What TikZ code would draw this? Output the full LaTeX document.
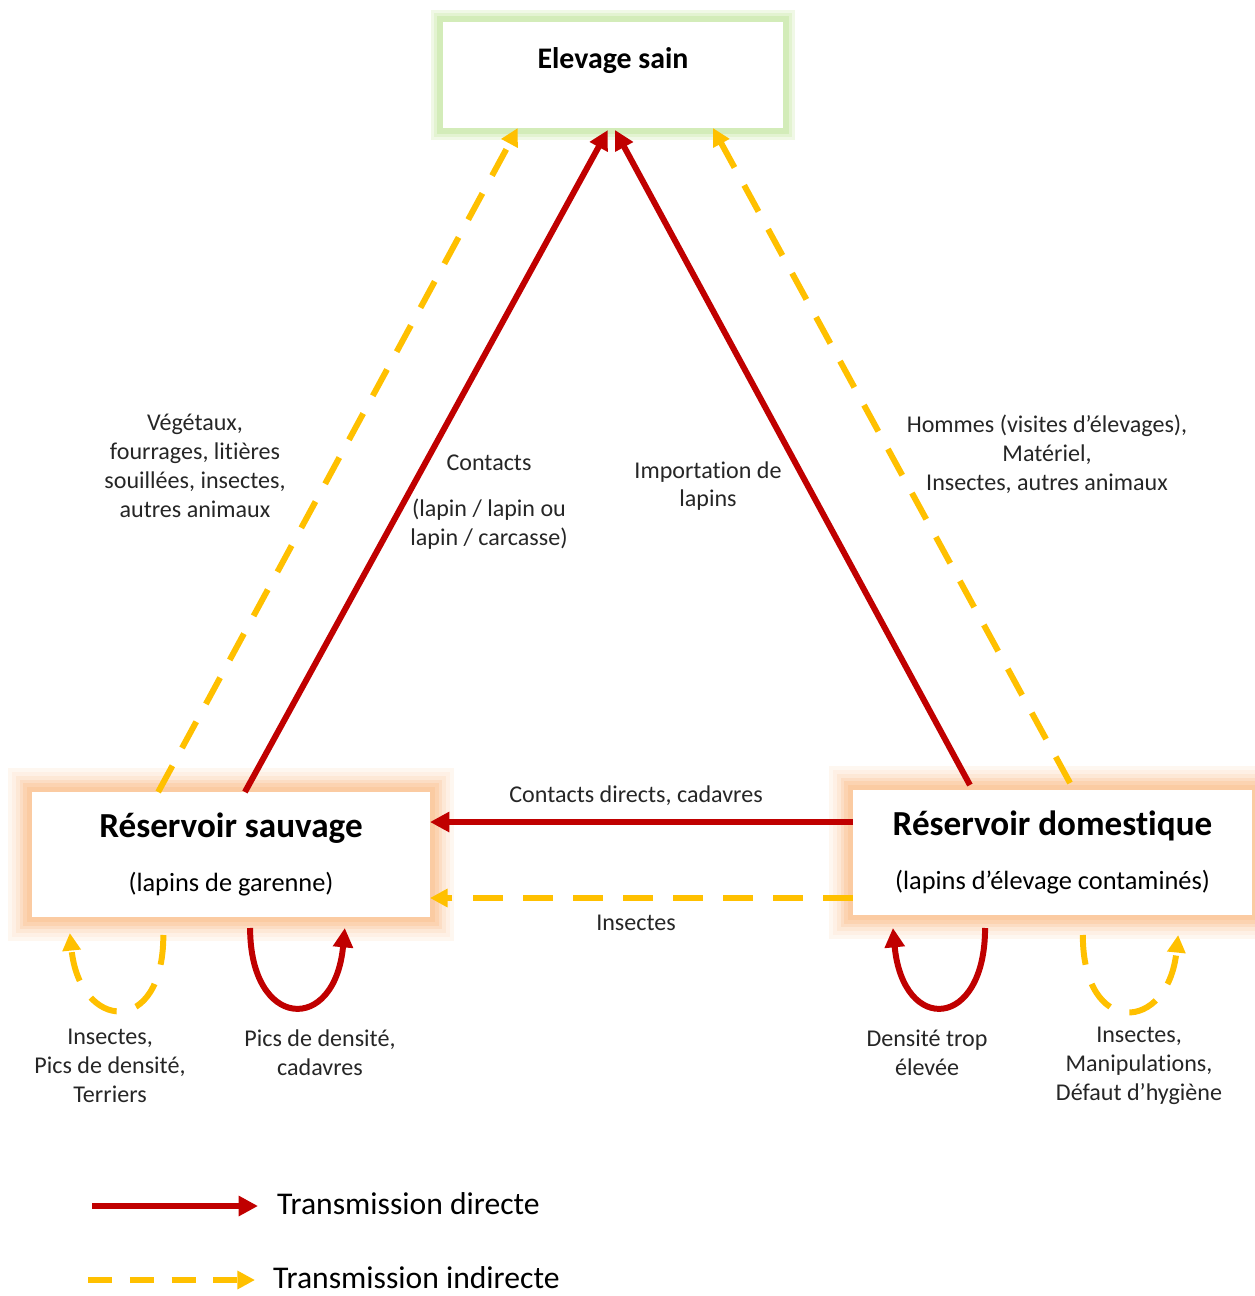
\documentclass[tikz,border=0pt]{standalone}
\usepackage{fontspec}
\setmainfont{Carlito}[Ligatures=NoCommon]
\usetikzlibrary{arrows.meta,calc,positioning}
\definecolor{rouge}{RGB}{192,0,0}
\definecolor{jaune}{RGB}{255,192,0}
\definecolor{orangeglow}{RGB}{247,150,70}
\definecolor{vertglow}{RGB}{146,208,80}

\tikzset{
	boite/.style={fill=white, outer sep=0pt, inner sep=0pt, align=center, font=\fontsize{15}{18}\selectfont},
	haloor/.style={preaction={draw=orangeglow!8, line width=0.95cm, rounded corners=0.5cm},
		preaction={draw=orangeglow!14, line width=0.8cm, rounded corners=0.42cm},
		preaction={draw=orangeglow!22, line width=0.65cm, rounded corners=0.34cm},
		preaction={draw=orangeglow!32, line width=0.5cm, rounded corners=0.26cm},
		preaction={draw=orangeglow!42, line width=0.35cm, rounded corners=0.18cm},
		preaction={draw=orangeglow!50, line width=0.2cm, rounded corners=0.1cm}},
	halovert/.style={preaction={draw=vertglow!14, line width=0.5cm, rounded corners=0.25cm},
		preaction={draw=vertglow!26, line width=0.38cm, rounded corners=0.18cm},
		preaction={draw=vertglow!40, line width=0.26cm, rounded corners=0.12cm}},
	texte/.style={align=center, text=black!85, font=\fontsize{13.7}{16.4}\selectfont},
	directe/.style={draw=rouge, line width=3.4pt, -{Triangle[length=11pt,width=11pt]}},
	indirecte/.style={draw=jaune, line width=3.4pt, dash pattern=on 17pt off 11.5pt, -{Triangle[length=10pt,width=10pt]}}
}

\begin{document}
\begin{tikzpicture}[x=0.02cm, y=-0.02cm]
	\useasboundingbox (0,0) rectangle (1255,1296);
	% boites
	\node[boite, halovert, minimum width=6.8cm, minimum height=2.12cm,
		label={[anchor=center, yshift=-0.78cm, font=\fontsize{17}{20}\selectfont\bfseries]north:Elevage sain}] (sain) at (613,75) {};
	\node[boite, haloor, minimum width=7.96cm, minimum height=2.5cm] (sauv) at (231,854.5)
		{{\fontsize{20}{24}\selectfont\bfseries Réservoir sauvage}\\[13pt](lapins de garenne)};
	\node[boite, haloor, minimum width=7.98cm, minimum height=2.5cm] (dom) at (1052.5,852.5)
		{{\fontsize{20}{24}\selectfont\bfseries Réservoir domestique}\\[13pt](lapins d’élevage contaminés)};

	% points de depart et d'arrivee
	\coordinate (sR) at ($(sauv.north west)!0.535!(sauv.north east)$);
	\coordinate (sY) at ($(sauv.north west)!0.317!(sauv.north east)$);
	\coordinate (dR) at ($(dom.north west)!0.293!(dom.north east)+(0,-5)$);
	\coordinate (dY) at ($(dom.north west)!0.544!(dom.north east)+(0,-7)$);
	\coordinate (hY1) at ($(sain.south west)!0.22!(sain.south east)$);
	\coordinate (hR1) at ($(sain.south west)!0.485!(sain.south east)+(0,2)$);
	\coordinate (hR2) at ($(sain.south west)!0.506!(sain.south east)+(0,2)$);
	\coordinate (hY2) at ($(sain.south west)!0.794!(sain.south east)$);
	\coordinate (dH1) at ($(dom.north west)!0.256!(dom.south west)$);
	\coordinate (dH2) at ($(dom.north west)!0.864!(dom.south west)$);

	\draw[indirecte] (sY) -- (hY1);
	\draw[directe] (sR) -- (hR1);
	\draw[directe] (dR) -- (hR2);
	\draw[indirecte] (dY) -- (hY2);
	\draw[directe] (dH1) -- (dH1 -| sauv.east);
	\draw[indirecte] (dH2) -- (dH2 -| sauv.east);

	% boucles
	\coordinate (b1a) at ($(sauv.south west)!0.33!(sauv.south east)+(0,18)$);
	\coordinate (b1b) at ($(sauv.south west)!0.095!(sauv.south east)+(0,16)$);
	\coordinate (b2a) at ($(sauv.south west)!0.548!(sauv.south east)+(0,11)$);
	\coordinate (b2b) at ($(sauv.south west)!0.786!(sauv.south east)+(0,11)$);
	\coordinate (b3a) at ($(dom.south west)!0.331!(dom.south east)+(0,13)$);
	\coordinate (b3b) at ($(dom.south west)!0.10!(dom.south east)+(0,13)$);
	\coordinate (b4a) at ($(dom.south west)!0.576!(dom.south east)+(0,20)$);
	\coordinate (b4b) at ($(dom.south west)!0.815!(dom.south east)+(0,20)$);
	\draw[indirecte] (b1a) .. controls +(0,103) and +(10,98) .. (b1b);
	\draw[directe] (b2a) .. controls +(0,102) and +(-10,107) .. (b2b);
	\draw[directe] (b3a) .. controls +(0,102) and +(10,107) .. (b3b);
	\draw[indirecte] (b4a) .. controls +(0,103) and +(-10,98) .. (b4b);

	% textes
	\node[texte] (veg) at (195,466) {Végétaux,\\fourrages, litières\\souillées, insectes,\\autres animaux};
	\node[texte] (contact) at (489,502) {Contacts\\[0.35cm](lapin / lapin ou\\lapin / carcasse)};
	\node[texte] (import) at (708,486) {Importation de\\lapins};
	\node[texte] (hommes) at (1047,454) {Hommes (visites d’élevages),\\Matériel,\\Insectes, autres animaux};
	\node[texte] (cdir) at (636,796) {Contacts directs, cadavres};
	\node[texte] (insect) at (636,923) {Insectes};
	\node[texte] (l1) at (110,1066) {Insectes,\\Pics de densité,\\Terriers};
	\node[texte] (l2) at (320,1053) {Pics de densité,\\cadavres};
	\node[texte] (l3) at (927,1053) {Densité trop\\élevée};
	\node[texte] (l4) at (1139,1066) {Insectes,\\Manipulations,\\Défaut d’hygiène};

	% legende
	\coordinate (leg1a) at (92,1206);
	\coordinate (leg1b) at (258,1206);
	\coordinate (leg2a) at (88,1280);
	\coordinate (leg2b) at (255,1280);
	\draw[directe] (leg1a) -- (leg1b);
	\draw[indirecte, dash pattern=on 13.6pt off 10.2pt] (leg2a) -- (leg2b);
	\node[anchor=west, font=\fontsize{18}{22}\selectfont] (ldir) at (271,1204) {Transmission directe};
	\node[anchor=west, font=\fontsize{18}{22}\selectfont] (lind) at (267,1278) {Transmission indirecte};
\end{tikzpicture}
\end{document}
